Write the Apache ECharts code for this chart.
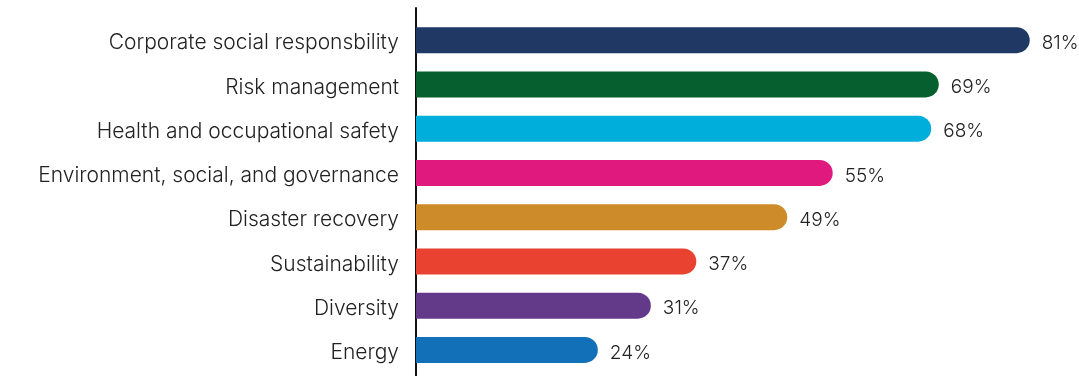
<!DOCTYPE html>
<html><head><meta charset="utf-8">
<script src="https://cdn.jsdelivr.net/npm/echarts@6/dist/echarts.min.js"></script>
<style>html,body{margin:0;padding:0;background:#fff}#c{width:1079px;height:376px}</style>
</head><body><div id="c"></div>
<script>
const categories = ["Corporate social responsbility","Risk management","Health and occupational safety","Environment, social, and governance","Disaster recovery","Sustainability","Diversity","Energy"];
const values = [81,69,68,55,49,37,31,24];
const colors = ["#1f3864","#055f2e","#00aedb","#e0197f","#cd8b2a","#ea4230","#633a8a","#1270b8"];
const FONT = "Inter";
const chart = echarts.init(document.getElementById('c'));
chart.setOption({
  animation:false,
  grid:[{left:416,right:19,top:18,bottom:4},{left:416,width:1,top:8,bottom:0}],
  xAxis:[{type:'value',min:0,max:85,show:false,gridIndex:0},{type:'value',show:false,gridIndex:1}],
  yAxis:[{type:'category',data:categories,inverse:true,gridIndex:0,
    axisLine:{show:false},axisTick:{show:false},
    axisLabel:{margin:17,formatter:v=>'{t|'+v+'}',
      rich:{t:{padding:[6,0,0,0],fontFamily:FONT,fontSize:21,fontWeight:300,color:'#222'}}}},
    {type:'value',gridIndex:1,axisLabel:{show:false},axisTick:{show:false},splitLine:{show:false},
     axisLine:{show:true,lineStyle:{color:'#111',width:2}}}],
  series:[{type:'bar',xAxisIndex:0,yAxisIndex:0,barWidth:26,
    data:values.map((v,i)=>({value:v,itemStyle:{color:colors[i]}})),
    itemStyle:{borderRadius:[0,13,13,0]},
    label:{show:true,position:'right',distance:12,offset:[0,3],formatter:'{c}%',fontFamily:FONT,fontSize:19,fontWeight:300,color:'#222'}}]
});
</script></body></html>
